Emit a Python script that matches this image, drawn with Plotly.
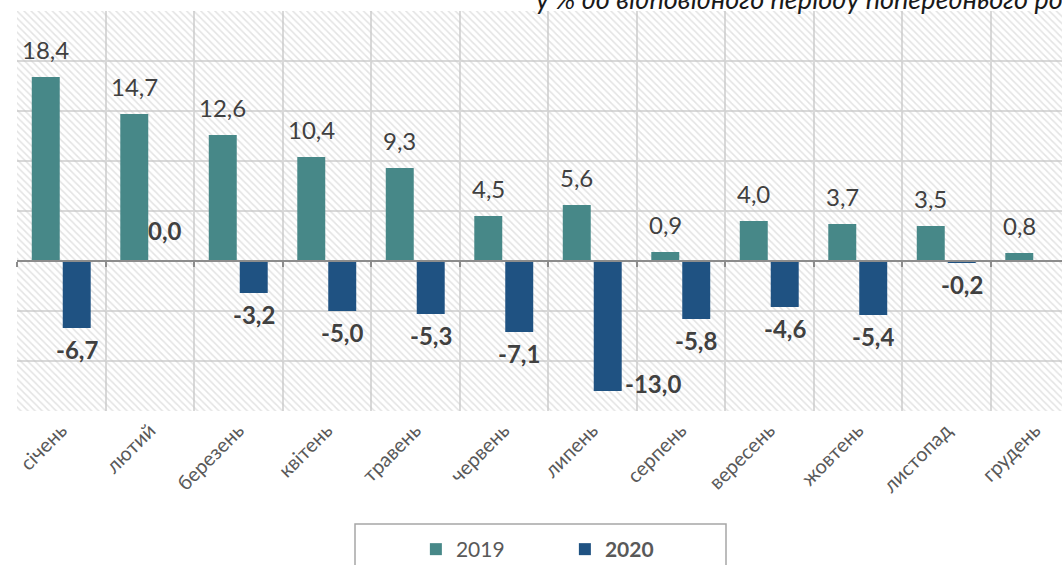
import plotly.graph_objects as go

months = ["січень", "лютий", "березень", "квітень", "травень", "червень",
          "липень", "серпень", "вересень", "жовтень", "листопад", "грудень"]
vals_2019 = [18.4, 14.7, 12.6, 10.4, 9.3, 4.5, 5.6, 0.9, 4.0, 3.7, 3.5, 0.8]
vals_2020 = [-6.7, 0.0, -3.2, -5.0, -5.3, -7.1, -13.0, -5.8, -4.6, -5.4, -0.2, None]
y_min, y_max, y_step = -15, 25, 5
subtitle = "у % до відповідного періоду попереднього року"

C19 = "#478888"
C20 = "#1F5282"
GRID = "#d9d9d9"
FONT = "Lato"
BAR_W = 0.316
OFF19 = -0.333
OFF20 = 0.017

fig = go.Figure()

# hatched plot background
fig.add_trace(go.Bar(
    x=[months[0]], y=[y_max - y_min], base=[y_min], offset=-0.5, width=len(months),
    marker=dict(color="rgba(0,0,0,0)", line=dict(width=0),
                pattern=dict(shape="\\", fgcolor="#c8c8c8", bgcolor="rgba(0,0,0,0)",
                             size=5, solidity=0.3)),
    hoverinfo="skip", showlegend=False))

fig.add_trace(go.Bar(x=months, y=vals_2019, name="2019", offset=OFF19, width=BAR_W,
                     marker=dict(color=C19, line=dict(width=0))))
fig.add_trace(go.Bar(x=months, y=vals_2020, name="<b>2020</b>", offset=OFF20, width=BAR_W,
                     marker=dict(color=C20, line=dict(width=0))))

# dummy trace for zero axis with boundary ticks
fig.add_trace(go.Scatter(x=months, y=[None] * len(months), xaxis="x2", mode="markers",
                         showlegend=False, hoverinfo="skip"))

LBL = dict(family=FONT, size=24, color="#404040")
ann = []
c19 = OFF19 + BAR_W / 2
c20 = OFF20 + BAR_W / 2
for i, v in enumerate(vals_2019):
    ann.append(dict(x=i + c19, y=v, xref="x", yref="y", text=f"{v:.1f}".replace(".", ","),
                    showarrow=False, yanchor="bottom", yshift=11, font=LBL))
for i, v in enumerate(vals_2020):
    if v is None:
        continue
    t = f"<b>{v:.1f}</b>".replace(".", ",")
    if v >= 0:
        ann.append(dict(x=i + c20, y=v, text=t, showarrow=False, yanchor="bottom", yshift=14,
                        font=LBL))
    elif v - 3 < y_min:
        ann.append(dict(x=i + OFF20 + BAR_W, y=v, text=t, showarrow=False, xanchor="left",
                        yanchor="middle", yshift=8, xshift=1, font=LBL))
    else:
        ann.append(dict(x=i + c20, y=v, text=t, showarrow=False, yanchor="top", yshift=-5,
                        font=LBL))

ann.append(dict(x=0.4952, y=1, xref="paper", yref="paper", text=f"<i>{subtitle}</i>",
                showarrow=False, xanchor="left", yanchor="bottom", yshift=-6,
                font=dict(family=FONT, size=27, color="#1a1a1a")))

x_range = [-0.5, -0.5 + 1045 / 88.5]
zero_pos = (0 - y_min) / (y_max - y_min)

fig.update_layout(
    width=1062, height=565,
    margin=dict(l=17, r=0, t=11, b=154, autoexpand=False),
    paper_bgcolor="white", plot_bgcolor="white",
    barmode="overlay",
    font=dict(family=FONT, color="#595959"),
    annotations=ann,
    xaxis=dict(type="category", range=x_range, tickson="boundaries", showgrid=True,
               gridcolor=GRID, gridwidth=1.5, ticks="", tickangle=-45, automargin=False,
               ticklabelstandoff=3,
               tickfont=dict(family=FONT, size=20, color="#595959"),
               showline=False, zeroline=False),
    xaxis2=dict(type="category", overlaying="x", anchor="free", position=zero_pos,
                range=x_range, tickson="boundaries", ticks="outside", ticklen=5,
                tickcolor="#8c8c8c", tickwidth=1.5, showline=True, linecolor="#8c8c8c",
                linewidth=1.5, showgrid=False, showticklabels=False, side="bottom",
                automargin=False),
    yaxis=dict(range=[y_min, y_max], dtick=y_step, tick0=0, showgrid=True, gridcolor=GRID,
               gridwidth=1.5, showticklabels=False, zeroline=False, ticks="",
               automargin=False),
    legend=dict(orientation="h", x=0.3817, xanchor="left", y=-0.295, yanchor="top",
                entrywidth=104, entrywidthmode="pixels",
                font=dict(family=FONT, size=21, color="#595959"),
                bgcolor="rgba(0,0,0,0)", traceorder="normal"),
    shapes=[dict(type="rect", xref="paper", yref="paper", x0=(355 - 17) / 1045,
                 x1=(726 - 17) / 1045, y0=-0.4, y1=-0.2825,
                 line=dict(color="#a6a6a6", width=1.5), fillcolor="rgba(0,0,0,0)",
                 layer="below")],
)

fig.write_html("out.html", config={"displayModeBar": False},
               post_script="document.body.style.margin='0';")
